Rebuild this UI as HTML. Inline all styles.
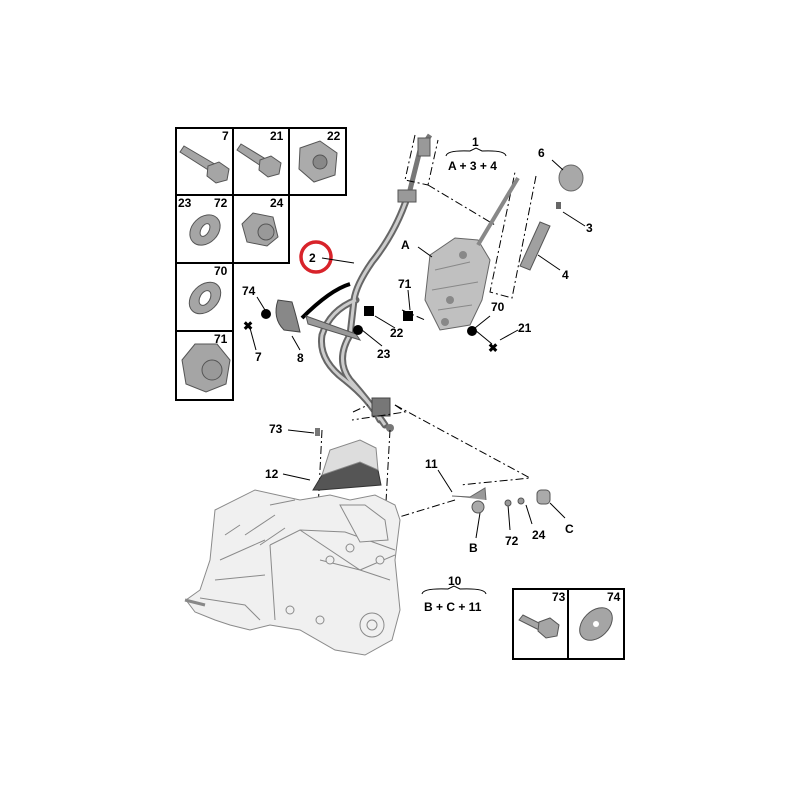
<!DOCTYPE html>
<html><head><meta charset="utf-8"><style>
html,body{margin:0;padding:0;background:#fff}
svg{display:block}
text{font-family:"Liberation Sans",sans-serif;font-weight:bold;font-size:12px;fill:#000}
</style></head><body>
<svg width="800" height="800" viewBox="0 0 800 800" xmlns="http://www.w3.org/2000/svg">
<rect width="800" height="800" fill="#fff"/>
<g fill="none" stroke="#000" stroke-width="2">
<path d="M176 128H346V195H289V263H233V400H176Z"/>
<line x1="233" y1="128" x2="233" y2="263"/>
<line x1="289" y1="128" x2="289" y2="195"/>
<line x1="176" y1="195" x2="289" y2="195"/>
<line x1="176" y1="263" x2="233" y2="263"/>
<line x1="176" y1="331" x2="233" y2="331"/>
</g>
<text x="222" y="140">7</text><text x="270" y="140">21</text><text x="327" y="140">22</text>
<text x="178" y="207">23</text><text x="214" y="207">72</text><text x="270" y="207">24</text>
<text x="214" y="275">70</text><text x="214" y="343">71</text>
<!-- bolt 7 -->
<g fill="#a5a5a5" stroke="#555"><path d="M180 152l4-6 34 20-5 7z"/><path d="M208 166l11-4 10 7-2 11-11 3-9-7z"/></g>
<g fill="#a5a5a5" stroke="#555"><path d="M237 150l4-6 28 17-5 7z"/><path d="M260 160l11-4 10 7-2 11-11 3-9-7z"/></g>
<g fill="#ababab" stroke="#555"><path d="M300 148l20-7 17 12-2 22-21 7-15-13z"/><circle cx="320" cy="162" r="7" fill="#888"/></g>
<g><ellipse cx="205" cy="230" rx="17" ry="13" fill="#a5a5a5" stroke="#555" transform="rotate(-45 205 230)"/><ellipse cx="205" cy="230" rx="4" ry="7" fill="#fff" stroke="#555" transform="rotate(30 205 230)"/></g>
<g><path d="M242 224l11-11 20 4 5 20-11 9-20-4z" fill="#a5a5a5" stroke="#555"/><circle cx="266" cy="232" r="8" fill="#999" stroke="#555"/></g>
<g><ellipse cx="205" cy="298" rx="18" ry="13" fill="#a5a5a5" stroke="#555" transform="rotate(-45 205 298)"/><ellipse cx="205" cy="298" rx="5" ry="8" fill="#fff" stroke="#555" transform="rotate(30 205 298)"/></g>
<g><path d="M182 360l13-16 22 0 13 16-4 24-20 8-20-8z" fill="#a5a5a5" stroke="#555"/><circle cx="212" cy="370" r="10" fill="#999" stroke="#555"/></g>
<circle cx="316" cy="257" r="15" fill="none" stroke="#d8232a" stroke-width="3.5"/>
<text x="309" y="262">2</text>
<line x1="322" y1="258" x2="354" y2="263" stroke="#000"/>
<!-- cable -->
<g fill="none" stroke="#666" stroke-width="7" stroke-linecap="round">
<path d="M408 195 Q396 232 372 262 Q356 285 354 300 L350 335"/>
<path d="M356 300 Q330 310 322 335 Q318 360 345 380 Q370 400 380 420"/>
<path d="M350 335 Q335 360 350 380 Q368 400 385 425"/>
</g>
<g fill="none" stroke="#ccc" stroke-width="3">
<path d="M408 195 Q396 232 372 262 Q356 285 354 300 L350 335"/>
<path d="M356 300 Q330 310 322 335 Q318 360 345 380 Q370 400 380 420"/>
<path d="M350 335 Q335 360 350 380 Q368 400 385 425"/>
</g>
<path d="M302 318 Q330 290 350 284" fill="none" stroke="#000" stroke-width="4"/>
<path d="M306 316 L356 334 L360 340 L308 324Z" fill="#999" stroke="#555"/>
<path d="M410 190 L420 150 L430 135" stroke="#777" stroke-width="5" fill="none"/>
<rect x="398" y="190" width="18" height="12" fill="#999" stroke="#555"/>
<rect x="418" y="138" width="12" height="18" fill="#999" stroke="#555"/>
<rect x="372" y="398" width="18" height="18" fill="#777" stroke="#444"/>
<circle cx="390" cy="428" r="4" fill="#777"/>
<g fill="none" stroke="#000" stroke-dasharray="8 3 2 3">
<path d="M415 135 L405 180 L428 185 L438 140"/>
<path d="M428 185 L495 225"/>
<path d="M536 176 L512 298 L490 292 L515 172"/>
<path d="M353 412 L368 405 M395 405 L405 412 L352 420"/>
<path d="M395 405 L530 478 L460 485"/>
<path d="M390 430 L385 520"/>
<path d="M455 500 L340 535"/>
<path d="M322 430 L318 510"/>
<path d="M402 310 L425 320"/>
</g>
<!-- group A -->
<path d="M430 255 L455 238 L478 240 L490 260 L482 300 L470 325 L440 330 L425 300Z" fill="#c0c0c0" stroke="#666"/>
<path d="M435 270 L470 262 M432 290 L478 282 M438 310 L472 305" stroke="#888" fill="none"/>
<path d="M478 245 L518 178" stroke="#888" stroke-width="4"/>
<circle cx="463" cy="255" r="4" fill="#888"/><circle cx="450" cy="300" r="4" fill="#888"/><circle cx="445" cy="322" r="4" fill="#888"/>
<ellipse cx="571" cy="178" rx="12" ry="13" fill="#a8a8a8" stroke="#666"/>
<rect x="556" y="202" width="5" height="7" fill="#666"/>
<path d="M540 222 L550 226 L530 270 L520 266Z" fill="#a0a0a0" stroke="#555"/>
<g stroke="#000" fill="none">
<path d="M446 156 Q447 150 470 151 L476 148 L482 151 Q505 150 506 156"/>
<line x1="552" y1="160" x2="563" y2="170"/>
<line x1="563" y1="212" x2="585" y2="226"/>
<line x1="538" y1="255" x2="560" y2="270"/>
<line x1="418" y1="247" x2="432" y2="257"/>
<line x1="408" y1="290" x2="410" y2="310"/>
<line x1="475" y1="328" x2="490" y2="316"/>
<line x1="475" y1="330" x2="492" y2="344"/>
<line x1="500" y1="340" x2="518" y2="330"/>
<line x1="375" y1="316" x2="395" y2="328"/>
<line x1="362" y1="330" x2="382" y2="346"/>
<line x1="257" y1="297" x2="265" y2="310"/>
<line x1="250" y1="328" x2="256" y2="350"/>
<line x1="292" y1="336" x2="300" y2="350"/>
<line x1="288" y1="430" x2="314" y2="433"/>
<line x1="283" y1="474" x2="310" y2="480"/>
<line x1="438" y1="470" x2="452" y2="492"/>
<line x1="480" y1="513" x2="476" y2="538"/>
<line x1="508" y1="505" x2="510" y2="530"/>
<line x1="526" y1="505" x2="532" y2="524"/>
<line x1="550" y1="503" x2="565" y2="518"/>
<path d="M422 594 Q423 588 448 589 L454 586 L460 589 Q485 588 486 594"/>
</g>
<circle cx="266" cy="314" r="5" fill="#000"/>
<rect x="364" y="306" width="10" height="10" fill="#000"/>
<circle cx="358" cy="330" r="5" fill="#000"/>
<rect x="403" y="311" width="10" height="10" fill="#000"/>
<circle cx="472" cy="331" r="5" fill="#000"/>
<text x="243" y="330" font-size="16">✖</text>
<text x="488" y="352" font-size="12">✖</text>
<path d="M278 300 Q272 318 284 330 L300 332 Q296 315 292 302Z" fill="#888" stroke="#444"/>
<text x="472" y="146">1</text><text x="448" y="170">A + 3 + 4</text>
<text x="538" y="157">6</text><text x="586" y="232">3</text><text x="562" y="279">4</text>
<text x="401" y="249">A</text><text x="398" y="288">71</text><text x="491" y="311">70</text>
<text x="518" y="332">21</text><text x="390" y="337">22</text><text x="377" y="358">23</text>
<text x="242" y="295">74</text><text x="255" y="361">7</text><text x="297" y="362">8</text>
<text x="269" y="433">73</text><text x="265" y="478">12</text><text x="425" y="468">11</text>
<text x="469" y="552">B</text><text x="505" y="545">72</text><text x="532" y="539">24</text>
<text x="565" y="533">C</text>
<text x="448" y="585">10</text><text x="424" y="611">B + C + 11</text>
<!-- cover 12 -->
<path d="M313 490 L322 475 L360 462 L378 470 L381 485 L320 490Z" fill="#555" stroke="#333"/>
<path d="M322 475 L330 450 L360 440 L376 448 L378 470 L360 462Z" fill="#ddd" stroke="#888"/>
<rect x="315" y="428" width="5" height="8" fill="#777"/>
<circle cx="478" cy="507" r="6" fill="#aaa" stroke="#555"/>
<path d="M452 496 L470 497 L485 488 L486 500" stroke="#666" fill="#999"/>
<circle cx="508" cy="503" r="3" fill="#999" stroke="#555"/>
<circle cx="521" cy="501" r="3" fill="#999" stroke="#555"/>
<rect x="537" y="490" width="13" height="14" rx="4" fill="#aaa" stroke="#555"/>
<!-- transmission -->
<g fill="#f0f0f0" stroke="#8a8a8a" stroke-width="1">
<path d="M215 510 L255 490 L300 500 L330 495 L350 500 L375 495 L395 505 L400 520 L395 560 L400 610 L392 640 L365 655 L335 650 L300 630 L270 625 L250 630 L230 625 L215 620 L195 612 L186 600 L200 590 L210 560 Z"/>
<path d="M270 545 L300 530 L345 532 L395 550 M270 545 L275 620 M300 530 L360 570 L395 555"/>
<path d="M320 560 L360 570 L390 580"/>
<path d="M225 535 L240 525 M245 535 L275 515 M260 545 L285 528 M270 505 L295 500"/>
<path d="M220 560 L265 540 M215 580 L265 575"/>
<circle cx="372" cy="625" r="12"/><circle cx="372" cy="625" r="5"/>
<path d="M340 505 L365 505 L385 520 L388 540 L360 542Z"/>
<circle cx="330" cy="560" r="4"/><circle cx="350" cy="548" r="4"/><circle cx="380" cy="560" r="4"/><circle cx="290" cy="610" r="4"/><circle cx="320" cy="620" r="4"/>
<path d="M200 598 L245 605 L260 620"/>
</g>
<path d="M185 600 L205 605" stroke="#888" stroke-width="3"/>
<g fill="none" stroke="#000" stroke-width="2">
<rect x="513" y="589" width="111" height="70"/>
<line x1="568" y1="589" x2="568" y2="659"/>
</g>
<text x="552" y="601">73</text><text x="607" y="601">74</text>
<path d="M519 620 l4-5 22 11-4 5z" fill="#a5a5a5" stroke="#555"/>
<path d="M539 622 l11-4 9 7-2 11-11 2-8-7z" fill="#a5a5a5" stroke="#555"/>
<ellipse cx="596" cy="624" rx="19" ry="13" fill="#a5a5a5" stroke="#555" transform="rotate(-45 596 624)"/>
<circle cx="596" cy="624" r="3" fill="#fff"/>
</svg>
</body></html>
